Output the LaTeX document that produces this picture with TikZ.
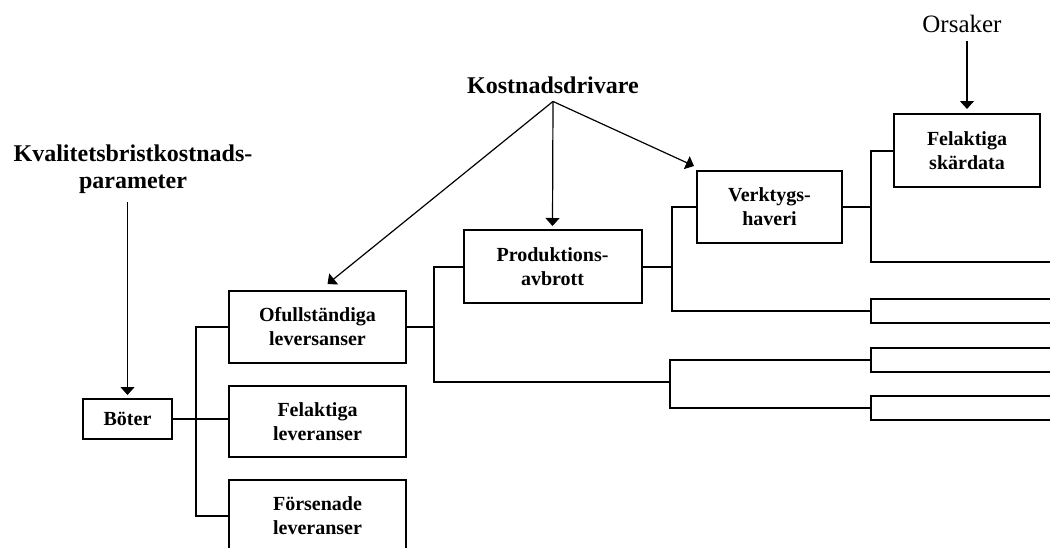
\documentclass[tikz,border=0pt]{standalone}
\usepackage{fontspec}
\setmainfont{Liberation Serif}
\usetikzlibrary{arrows.meta}
\begin{document}
\begin{tikzpicture}[x=1pt,y=-1pt,
  box/.style={draw, line width=2pt, inner sep=0pt, align=center,
    font=\fontsize{20}{24}\selectfont\bfseries},
  stub/.style={draw, line width=2pt, inner sep=0pt, minimum height=24pt,
    minimum width=220pt, anchor=west},
  link/.style={line width=2pt},
  head/.style={inner sep=0pt, align=center, font=\fontsize{24}{27}\selectfont\bfseries},
  pointer/.style={line width=1.2pt, -{Triangle[width=14pt,length=8pt]}}]
\useasboundingbox (0,0) rectangle (1050,547);
\clip (0,0) rectangle (1050,547);

% headings
\node[head, anchor=north] (par) at (133,145) {Kvalitetsbristkostnads-\\parameter};
\node[head, anchor=base] (kost) at (553,93) {Kostnadsdrivare};
\node[inner sep=0pt, anchor=base, font=\fontsize{25}{30}\selectfont] (ors) at (962,32) {Orsaker};

% boxes
\node[box, minimum width=89pt, minimum height=40pt] (boter) at (127.5,419) {Böter};
\node[box, minimum width=177pt, minimum height=72pt] (ofull) at (317.5,327) {Ofullständiga\\leversanser};
\node[box, minimum width=177pt, minimum height=71pt] (fel) at (317.5,421.5) {Felaktiga\\leveranser};
\node[box, minimum width=177pt, minimum height=72pt] (fors) at (317.5,516) {Försenade\\leveranser};
\node[box, minimum width=178pt, minimum height=73pt] (prod) at (552.5,266.5) {Produktions-\\avbrott};
\node[box, minimum width=145pt, minimum height=72pt] (verk) at (769.5,207) {Verktygs-\\haveri};
\node[box, minimum width=146pt, minimum height=73pt] (skar) at (967,150.5) {Felaktiga\\skärdata};

% boxes running past the right edge
\node[stub] (s1) at (870,311) {};
\node[stub] (s2) at (870,359.5) {};
\node[stub] (s3) at (870,407.5) {};
\coordinate (out) at (1070,262);

% tree connectors
\draw[link] (boter.east) -- (boter.east -| fel.west);
\draw[link] (ofull.west) -- ++(-32,0) |- (fors.west);
\draw[link] (ofull.east) -- ++(27,0) coordinate (j2);
\coordinate (j3) at (670,382);
\draw[link] (prod.west) -| (j2) |- (j3);
\draw[link] (s2.west) -| (j3) |- (s3.west);
\draw[link] (prod.east) -- ++(29,0) coordinate (j4);
\draw[link] (verk.west) -| (j4) |- (s1.west);
\draw[link] (verk.east) -- ++(28,0) coordinate (j5);
\draw[link] (skar.west) -| (j5) |- (out);

% arrows from the headings
\draw[pointer, shorten <=8pt] (par.south -| boter.north) -- ([yshift=3pt]boter.north);
\coordinate (kd) at ([yshift=-8pt]kost.south);
\draw[pointer] (kd) -- ([xshift=10pt,yshift=6pt]ofull.north);
\draw[pointer] (kd) -- ([yshift=3pt]prod.north);
\draw[pointer] (kd) -- ([xshift=-2pt,yshift=4pt]verk.north west);
\draw[pointer, shorten <=9pt] (ors.south -| skar.north) -- ([yshift=4pt]skar.north);
\end{tikzpicture}
\end{document}
